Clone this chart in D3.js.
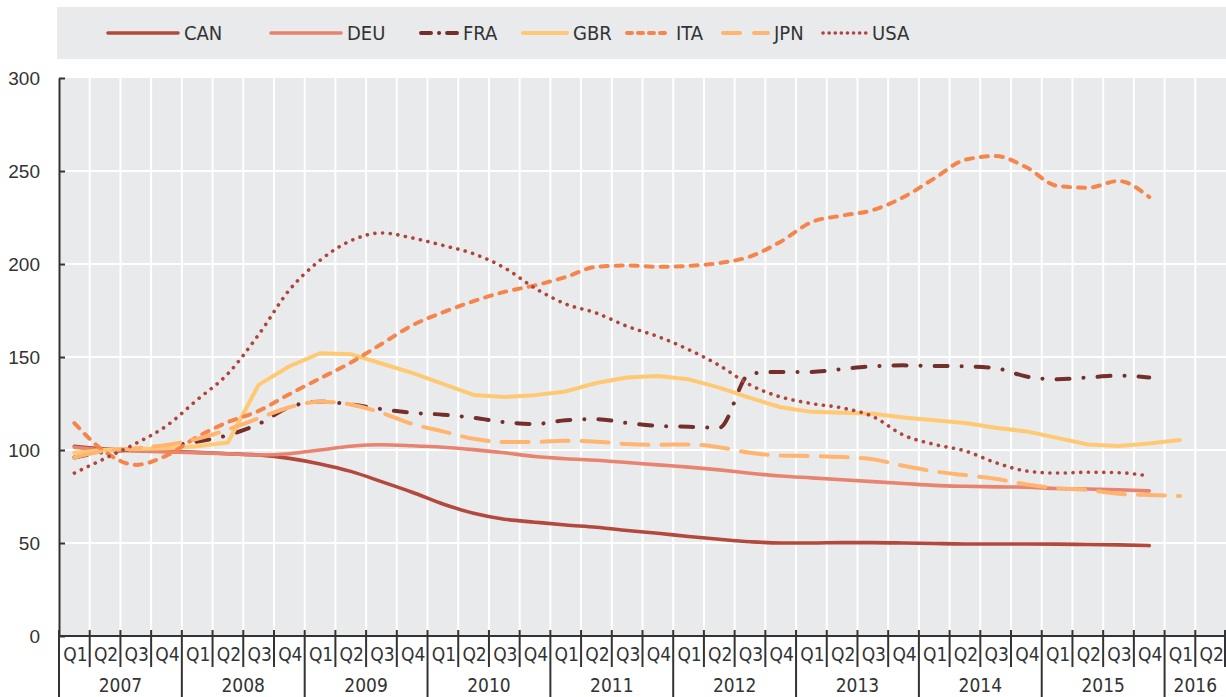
<!DOCTYPE html>
<html>
<head>
<meta charset="utf-8">
<script src="https://cdn.jsdelivr.net/npm/d3@7"></script>
<style>
  body { margin: 0; background: #fff; }
  svg { display: block; font-family: "Liberation Sans Narrow", "Arial Narrow", "DejaVu Sans Condensed", sans-serif; }
</style>
</head>
<body>
<div id="chart"></div>
<script>
// quarters 2007Q1 .. 2016Q2
var years = [2007, 2008, 2009, 2010, 2011, 2012, 2013, 2014, 2015, 2016];
var quarterNames = ["Q1", "Q2", "Q3", "Q4"];
var yTicks = [0, 50, 100, 150, 200, 250, 300];

var countries = ["CAN", "DEU", "FRA", "GBR", "ITA", "JPN", "USA"];

// index values, one per quarter from 2007Q1
var CAN = [102, 100.5, 99.8, 99.3, 98.7, 98, 97.3, 95.5, 92.5, 88.5, 83, 77.3, 71, 66, 62.8, 61.2, 59.7, 58.5, 56.7, 55.2, 53.5, 52, 50.7, 50, 50, 50.2, 50.2, 50, 49.7, 49.5, 49.5, 49.5, 49.4, 49.2, 49, 48.6];
var DEU = [101.5, 100, 99.5, 99, 98.5, 98, 97.3, 98, 100, 102, 102.8, 102.3, 101.5, 100.2, 98.5, 96.5, 95.3, 94.5, 93.3, 92, 90.8, 89.3, 87.5, 86, 85, 84, 83, 82, 81, 80.5, 80.2, 80, 79.3, 79, 78.6, 78];
var FRA = [96, 99, 100.5, 102, 104.5, 108, 114, 123, 126, 124.5, 122, 120, 119, 117.3, 115, 114, 116, 116.6, 114.5, 113, 112.5, 112, 141, 142, 142, 143.5, 145, 145.5, 145.2, 145, 144, 139.5, 138, 139, 140, 139];
var GBR = [98.5, 100, 100.5, 101, 102, 104, 135, 145, 152, 151.5, 146.5, 141.5, 135.5, 129.6, 128.5, 129.5, 131.5, 136, 139, 139.8, 138, 133.5, 128, 123, 120.5, 120, 119.5, 117.5, 116, 114.5, 112, 110, 106.5, 103, 102.2, 103.5, 105.4];
var ITA = [114.5, 99, 92, 97, 107, 115, 121, 130, 138.5, 147, 157, 167, 174, 180, 185, 188.5, 193, 198.5, 199.2, 198.5, 199, 200.5, 204, 212, 222.5, 226, 229, 236, 246, 256, 258, 252, 242, 241, 244.6, 236];
var JPN = [96, 99.5, 101, 102.7, 106, 111, 117, 123, 126, 124.5, 120, 114, 110, 106, 104.3, 104.3, 105, 104.5, 103.2, 102.8, 103, 101.5, 98.5, 97, 96.8, 96.2, 95, 91.5, 88.5, 86.5, 84.5, 81.5, 79.5, 78.5, 76.5, 75.8, 75.3];
var USA = [87.6, 95.5, 103.5, 113, 127, 141, 162, 186, 202, 212.5, 216.7, 214, 210, 205.5, 198, 187, 178.5, 173.6, 166.5, 161, 154, 145.5, 135, 128.5, 125, 122.6, 118, 108, 103, 99.5, 93.2, 88.7, 87.6, 88, 87.8, 86];

var seriesValues = [CAN, DEU, FRA, GBR, ITA, JPN, USA];

var colors = ["#b3483d", "#e8836f", "#752f2b", "#ffc974", "#f5854a", "#ffb570", "#b0443a"];
var dashes = [null, null, "13,14,0.1,14", null, "7,8", "27,13", "0.1,7.6"];
var legDashes = [null, null, "10,8,0.1,8", null, "5,6", "17,14", "0.1,6"];
var widths = [3.6, 3.6, 4, 4, 4, 4, 3.6];

var W = 1226, H = 697;
var margin = {left: 59, top: 78, right: 0, bottom: 61};
var plotBottom = H - margin.bottom;

var quarters = [];
years.forEach(function(y) {
    quarterNames.forEach(function(q) {
	if (y < 2016 || q == "Q1" || q == "Q2") quarters.push({year: y, q: q, key: y + q});
    });
});

var svg = d3.select("#chart").append("svg")
    .attr("width", W)
    .attr("height", H);

var x = d3.scaleBand().domain(quarters.map(function(d) { return d.key; }))
    .range([margin.left, W - margin.right]).padding(0);
var y = d3.scaleLinear().domain([0, 300]).range([plotBottom, margin.top]);
var bw = x.bandwidth();

// legend box
var legX = [108, 271, 421, 523, 627, 723, 823];
var legLen = [70, 70, 36, 44, 43, 45, 43];
svg.append("rect")
    .attr("x", 57).attr("y", 7)
    .attr("width", W - 57).attr("height", 52)
    .attr("fill", "#e9eaec");

var leg = svg.append("g").selectAll("g").data(countries).enter().append("g");
leg.append("line")
    .attr("x1", function(d, i) { return legX[i]; })
    .attr("x2", function(d, i) { return legX[i] + legLen[i]; })
    .attr("y1", 33).attr("y2", 33)
    .attr("stroke", function(d, i) { return colors[i]; })
    .attr("stroke-width", function(d, i) { return widths[i]; })
    .attr("stroke-linecap", "round")
    .attr("stroke-dasharray", function(d, i) { return legDashes[i]; });
leg.append("text")
    .attr("x", function(d, i) { return legX[i] + legLen[i] + 6; })
    .attr("y", 40)
    .attr("font-size", 20)
    .attr("fill", "#333")
    .text(function(d) { return d; });

// plot background
svg.append("rect")
    .attr("x", margin.left).attr("y", margin.top)
    .attr("width", W - margin.left).attr("height", plotBottom - margin.top)
    .attr("fill", "#e9eaec");

// grid
svg.append("g").selectAll("line").data(quarters.slice(1)).enter().append("line")
    .attr("x1", function(d) { return x(d.key); })
    .attr("x2", function(d) { return x(d.key); })
    .attr("y1", margin.top).attr("y2", plotBottom)
    .attr("stroke", "#fff").attr("stroke-width", 2);
svg.append("g").selectAll("line").data(yTicks.filter(function(t) { return t > 0 && t < 300; })).enter().append("line")
    .attr("x1", margin.left).attr("x2", W)
    .attr("y1", function(d) { return y(d); })
    .attr("y2", function(d) { return y(d); })
    .attr("stroke", "#fff").attr("stroke-width", 2);

// y axis
var yAxis = svg.append("g")
    .attr("transform", "translate(" + margin.left + ",0)")
    .call(d3.axisLeft(y).tickValues(yTicks).tickSizeInner(-6).tickSizeOuter(0).tickPadding(19));
yAxis.select(".domain").attr("stroke", "#333").attr("stroke-width", 2);
yAxis.selectAll(".tick line").attr("stroke", "#333").attr("stroke-width", 2);
yAxis.selectAll("text").attr("font-size", 19).attr("fill", "#333")
    .attr("font-family", "inherit");

// lines (GBR drawn straight, others smoothed)
var makeLine = function(curve) {
    return d3.line()
	.x(function(d, i) { return x(quarters[i].key) + bw / 2; })
	.y(function(d) { return y(d); })
	.curve(curve);
};
var smooth = makeLine(d3.curveMonotoneX), straight = makeLine(d3.curveLinear);

svg.append("g").selectAll("path").data(seriesValues).enter().append("path")
    .attr("d", function(d, i) { return countries[i] == "GBR" ? straight(d) : smooth(d); })
    .attr("fill", "none")
    .attr("stroke", function(d, i) { return colors[i]; })
    .attr("stroke-width", function(d, i) { return widths[i]; })
    .attr("stroke-linecap", "round")
    .attr("stroke-linejoin", "round")
    .attr("stroke-dasharray", function(d, i) { return dashes[i]; });

// x axis
var xa = svg.append("g");
xa.append("line")
    .attr("x1", margin.left).attr("x2", W)
    .attr("y1", plotBottom).attr("y2", plotBottom)
    .attr("stroke", "#333").attr("stroke-width", 2);
xa.selectAll(".qtick").data(quarters).enter().append("line")
    .attr("class", "qtick")
    .attr("x1", function(d) { return x(d.key); })
    .attr("x2", function(d) { return x(d.key); })
    .attr("y1", plotBottom - 6)
    .attr("y2", function(d) { return d.q == "Q1" ? H : plotBottom + 31; })
    .attr("stroke", "#333").attr("stroke-width", 2);
xa.append("line")
    .attr("x1", W - 1).attr("x2", W - 1)
    .attr("y1", plotBottom - 6).attr("y2", plotBottom + 31)
    .attr("stroke", "#333").attr("stroke-width", 2);
xa.selectAll(".qlab").data(quarters).enter().append("text")
    .attr("class", "qlab")
    .attr("x", function(d) { return x(d.key) + bw / 2 + 1; })
    .attr("y", plotBottom + 25)
    .attr("text-anchor", "middle")
    .attr("font-size", 19)
    .attr("fill", "#333")
    .text(function(d) { return d.q; });
xa.selectAll(".ylab").data(years).enter().append("text")
    .attr("class", "ylab")
    .attr("x", function(d) {
	var qs = quarters.filter(function(q) { return q.year == d; });
	return (x(qs[0].key) + x(qs[qs.length - 1].key) + bw) / 2;
    })
    .attr("y", plotBottom + 56)
    .attr("text-anchor", "middle")
    .attr("font-size", 19)
    .attr("fill", "#333")
    .text(function(d) { return d; });
</script>
</body>
</html>
